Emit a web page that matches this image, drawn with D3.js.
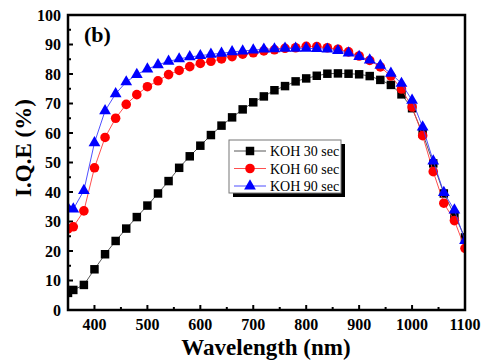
<!DOCTYPE html>
<html><head><meta charset="utf-8">
<script src="https://cdn.jsdelivr.net/npm/d3@7"></script>
<style>body{margin:0;background:#fff}</style>
</head><body>
<svg id="c" width="486" height="361"></svg>
<script>
const wavelengths = [350,360,380,400,420,440,460,480,500,520,540,560,580,600,620,640,660,680,700,720,740,760,780,800,820,840,860,880,900,920,940,960,980,1000,1020,1040,1060,1080,1100];
const koh30 = [5.8,6.8,8.5,13.8,18.9,23.4,27.6,31.5,35.4,39.5,43.7,48.2,52.1,55.7,59.3,62.5,65.3,68.0,70.4,72.4,74.5,75.9,77.5,78.5,79.4,80.1,80.2,80.1,79.9,79.3,78.0,76.3,73.1,68.4,59.9,49.7,39.5,32.2,24.6];
const koh60 = [27.5,28.2,33.6,48.2,58.5,65.0,69.7,73.0,75.7,77.7,79.8,81.2,82.5,83.6,84.3,85.1,85.9,86.7,87.2,87.8,88.2,88.7,88.9,89.4,89.3,88.9,88.4,87.5,86.1,84.6,82.4,79.3,74.9,68.8,59.1,46.9,36.2,30.3,20.9];
const koh90 = [34.5,34.2,40.5,56.7,67.5,73.3,77.3,79.8,81.7,83.1,84.3,85.1,85.8,86.2,86.7,87.0,87.5,87.8,88.1,88.4,88.5,88.7,88.7,88.7,88.6,88.4,87.9,87.1,85.9,84.7,82.9,80.2,76.8,71.1,62.0,50.5,39.8,33.9,23.5];
const seriesNames = ["KOH 30 sec","KOH 60 sec","KOH 90 sec"];
const xTicks = [400,500,600,700,800,900,1000,1100];
const yTicks = [0,10,20,30,40,50,60,70,80,90,100];

const svg = d3.select("#c");
const L=68,R=465,T=15,B=310;
const x = d3.scaleLinear().domain([350,1100]).range([L,R]);
const y = d3.scaleLinear().domain([0,100]).range([B,T]);
const font = "'Liberation Serif','Times New Roman',serif";

svg.append("defs").append("clipPath").attr("id","clip")
  .append("rect").attr("x",L).attr("y",T).attr("width",R-L).attr("height",B-T);

// ticks (inward)
const xMinor = d3.range(350,1101,50);
svg.append("g").selectAll("line").data(xMinor).join("line")
  .attr("x1",d=>x(d)).attr("x2",d=>x(d)).attr("y1",B).attr("y2",d=>B-(d%100===0?5:3))
  .attr("stroke","#000").attr("stroke-width",2);
const yMinor = d3.range(0,101,5);
svg.append("g").selectAll("line").data(yMinor).join("line")
  .attr("y1",d=>y(d)).attr("y2",d=>y(d)).attr("x1",L).attr("x2",d=>L+(d%10===0?5:3))
  .attr("stroke","#000").attr("stroke-width",2);

// tick labels
svg.append("g").selectAll("text").data(xTicks).join("text")
  .attr("x",d=>x(d)).attr("y",330).attr("text-anchor","middle")
  .attr("font-family",font).attr("font-weight","bold").attr("font-size",16).text(d=>d);
svg.append("g").selectAll("text").data(yTicks).join("text")
  .attr("x",61).attr("y",d=>y(d)+5.5).attr("text-anchor","end")
  .attr("font-family",font).attr("font-weight","bold").attr("font-size",16).text(d=>d);

// titles
svg.append("text").attr("x",266).attr("y",355).attr("text-anchor","middle")
  .attr("font-family",font).attr("font-weight","bold").attr("font-size",23).text("Wavelength (nm)");
svg.append("text").attr("transform","translate(31,148) rotate(-90)").attr("text-anchor","middle")
  .attr("font-family",font).attr("font-weight","bold").attr("font-size",23).text("I.Q.E (%)");
svg.append("text").attr("x",84).attr("y",42)
  .attr("font-family",font).attr("font-weight","bold").attr("font-size",22).text("(b)");

// series
const data = [
  {name:seriesNames[0], vals:koh30, color:"#000", line:"#444", shape:d3.symbolSquare, size:72},
  {name:seriesNames[1], vals:koh60, color:"#ff0000", line:"#ff3b3b", shape:d3.symbolCircle, size:72},
  {name:seriesNames[2], vals:koh90, color:"#0000ff", line:"#3b3bff", shape:d3.symbolTriangle, size:60}
];
const plot = svg.append("g").attr("clip-path","url(#clip)");
const line = d3.line().x((d,i)=>x(wavelengths[i])).y(d=>y(d));
data.forEach(s=>{
  plot.append("path").datum(s.vals).attr("d",line).attr("fill","none")
    .attr("stroke",s.line).attr("stroke-width",0.9);
  plot.append("g").selectAll("path").data(s.vals).join("path")
    .attr("d",d3.symbol().type(s.shape).size(s.size))
    .attr("transform",(d,i)=>`translate(${x(wavelengths[i])},${y(d)})`)
    .attr("fill",s.color);
});

// frame
svg.append("rect").attr("x",L).attr("y",T).attr("width",R-L).attr("height",B-T)
  .attr("fill","none").attr("stroke","#000").attr("stroke-width",2.5);

// legend
const lg = svg.append("g");
lg.append("rect").attr("x",233).attr("y",144).attr("width",112).attr("height",53).attr("fill","#000");
lg.append("rect").attr("x",229).attr("y",140).attr("width",112).attr("height",53)
  .attr("fill","#fff").attr("stroke","#777").attr("stroke-width",1);
data.forEach((s,i)=>{
  const ly = 151 + i*17.5;
  lg.append("line").attr("x1",234).attr("x2",266).attr("y1",ly).attr("y2",ly)
    .attr("stroke",s.line).attr("stroke-width",0.9);
  lg.append("path").attr("d",d3.symbol().type(s.shape).size(s.size)())
    .attr("transform",`translate(250,${ly})`).attr("fill",s.color);
  lg.append("text").attr("x",270).attr("y",ly+5).attr("font-family",font)
    .attr("font-size",14).text(s.name);
});
</script>
</body></html>
